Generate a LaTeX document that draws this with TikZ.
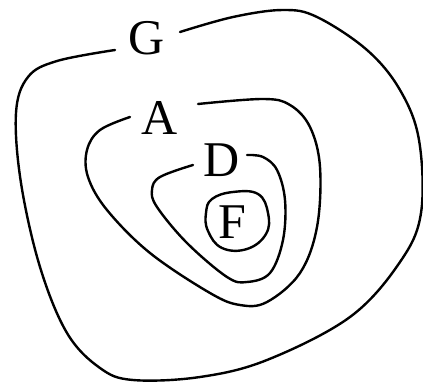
\documentclass[tikz,border=0pt]{standalone}
\usepackage{fontspec}
\setmainfont{Liberation Serif}
\begin{document}
\begin{tikzpicture}[x=1pt,y=-1pt,
  curve/.style={line width=2.4pt,line cap=round,line join=round},
  lbl/.style={font=\fontsize{50}{60}\selectfont,inner sep=0pt}]
\useasboundingbox (0,0) rectangle (423,385);
% labels
\node[lbl] (G) at (147,38) {G};
\node[lbl] (A) at (160,118) {A};
\node[lbl] (D) at (222,160) {D};
\node[lbl] (F) at (232,222) {F};
% outer curve G
\draw[curve] plot[smooth,tension=0.6] coordinates {(180,32) (233,17) (283,10) (317,17) (367,50) (400,90) (419,140) (421,213) (400,262) (350,317) (267,360) (200,377) (133,380) (100,368) (67,333) (40,267) (21,183) (16,113) (28,77) (57,61) (115,50)};
% curve A
\draw[curve] plot[smooth,tension=0.6] coordinates {(130,117) (100,130) (87,150) (88,177) (107,210) (150,253) (210,293) (240,305) (267,302) (300,273) (317,227) (320,167) (310,127) (290,105) (263,99) (198,104)};
% curve D
\draw[curve] plot[smooth,tension=0.6] coordinates {(193,165) (160,177) (152,190) (157,207) (187,243) (227,277) (247,282) (270,273) (283,240) (285,200) (277,170) (263,157) (247,155)};
% curve F
\draw[curve] plot[smooth cycle,tension=0.7] coordinates {(212,199) (233,192) (258,194) (268,213) (266,234) (247,249) (222,248) (208,231) (206,213)};
\end{tikzpicture}
\end{document}
